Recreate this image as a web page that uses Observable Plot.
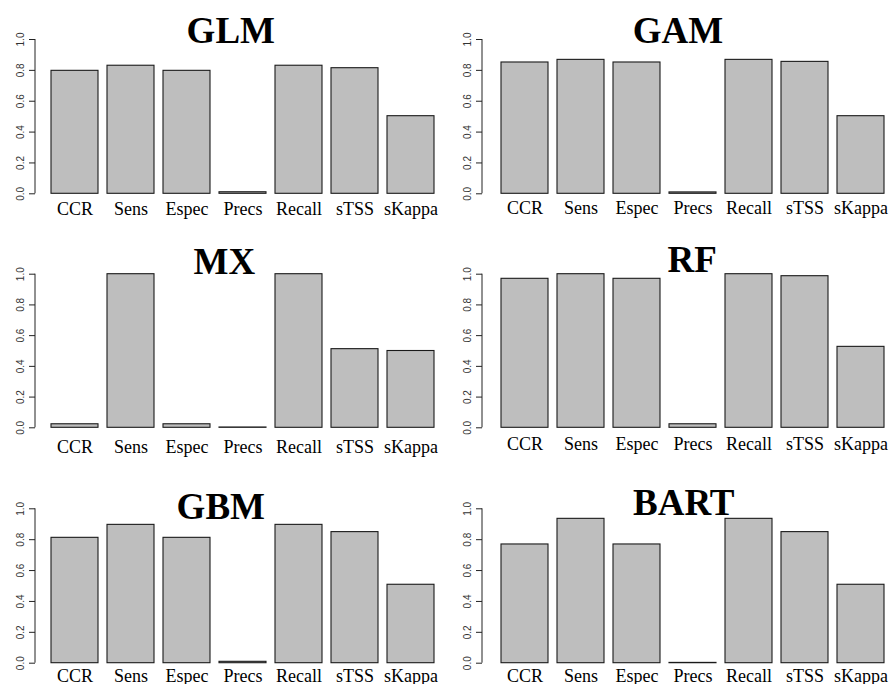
<!DOCTYPE html>
<html>
<head>
<meta charset="utf-8">
<script src="https://cdn.jsdelivr.net/npm/d3@7"></script>
<script src="https://cdn.jsdelivr.net/npm/@observablehq/plot@0.6"></script>
<style>
  html, body { margin: 0; padding: 0; background: #fff; }
  #wrap { position: relative; width: 894px; height: 684px; overflow: hidden; background: #fff; }
  .panel { position: absolute; }
  .panel svg { overflow: visible; }
</style>
</head>
<body>
<div id="wrap"></div>
<script>
// ---- data ----
const metrics = ["CCR", "Sens", "Espec", "Precs", "Recall", "sTSS", "sKappa"];
const models = ["GLM", "GAM", "MX", "RF", "GBM", "BART"];
const glm  = [0.797, 0.830, 0.797, 0.010, 0.830, 0.814, 0.503];
const gam  = [0.851, 0.868, 0.851, 0.009, 0.868, 0.855, 0.503];
const mx   = [0.023, 1.000, 0.023, 0.002, 1.000, 0.512, 0.500];
const rf   = [0.970, 1.000, 0.970, 0.023, 1.000, 0.987, 0.527];
const gbm  = [0.812, 0.896, 0.812, 0.009, 0.896, 0.849, 0.508];
const bart = [0.769, 0.935, 0.769, 0.002, 0.935, 0.849, 0.508];
const yTicks = [0, 0.2, 0.4, 0.6, 0.8, 1.0];
const seriesByModel = {GLM: glm, GAM: gam, MX: mx, RF: rf, GBM: gbm, BART: bart};

// ---- layout (positions / sizes) ----
const W = 447, H = 228;
const layout = [
  {left: 0,   top: 0,   mt: 39,   mb: 34.7, xr: [49.3, 434.7], tx: 230.3, ty: 42.7, lb: 21.0},
  {left: 447, top: 0,   mt: 39,   mb: 34.7, xr: [52.3, 437.7], tx: 230.5, ty: 42.7, lb: 20.5},
  {left: 0,   top: 228, mt: 45.7, mb: 28.7, xr: [49.3, 434.7], tx: 223.8, ty: 45.0, lb: 25.3},
  {left: 447, top: 228, mt: 45.7, mb: 28.7, xr: [52.3, 437.7], tx: 244.7, ty: 43.3, lb: 22.4},
  {left: 0,   top: 456, mt: 52.3, mb: 21.3, xr: [49.3, 434.7], tx: 220.3, ty: 62.0, lb: 19.0},
  {left: 447, top: 456, mt: 52.3, mb: 21.3, xr: [52.3, 437.7], tx: 236.3, ty: 58.3, lb: 19.0}
];
const ML = 35;
const SERIF = "Liberation Serif, Times New Roman, serif";

const wrap = document.getElementById("wrap");

models.forEach((name, i) => {
  const L = layout[i];
  const vals = seriesByModel[name];
  const rows = metrics.map((m, j) => ({metric: m, value: vals[j]}));

  const axisLine = (index, scales, values, dimensions) => {
    return d3.create("svg:line")
      .attr("x1", dimensions.marginLeft)
      .attr("x2", dimensions.marginLeft)
      .attr("y1", scales.y(0))
      .attr("y2", scales.y(1))
      .attr("stroke", "#222")
      .attr("stroke-width", 1)
      .node();
  };

  const chart = Plot.plot({
    width: W,
    height: H,
    marginLeft: ML,
    marginRight: 0,
    marginTop: L.mt,
    marginBottom: L.mb,
    style: {background: "transparent", overflow: "visible"},
    x: {domain: metrics, range: L.xr, paddingInner: 0.1667, paddingOuter: 0, label: null, axis: null},
    y: {domain: [0, 1], label: null},
    marks: [
      Plot.barY(rows, {x: "metric", y: "value", fill: "#bebebe", stroke: "#1a1a1a", strokeWidth: 1.1}),
      axisLine,
      Plot.axisY({
        ticks: yTicks, tickFormat: d3.format(".1f"), tickSize: 6, tickPadding: 6,
        tickRotate: -90, fontSize: 10, fontFamily: "Liberation Sans, Arial, sans-serif",
        stroke: "#222", fill: "#333", label: null
      }),
      Plot.text(rows, {
        x: "metric", frameAnchor: "bottom", dy: L.lb,
        text: "metric", textAnchor: "middle", lineAnchor: "bottom",
        fontSize: 18, fontFamily: SERIF, fill: "#000"
      }),
      Plot.text([name], {
        frameAnchor: "top-left", dx: L.tx - ML, dy: L.ty - L.mt,
        text: d => d, textAnchor: "middle", lineAnchor: "bottom",
        fontSize: 37, fontWeight: "bold", fontFamily: SERIF, fill: "#000"
      })
    ]
  });

  const div = document.createElement("div");
  div.className = "panel";
  div.style.left = L.left + "px";
  div.style.top = L.top + "px";
  div.appendChild(chart);
  wrap.appendChild(div);
});
</script>
</body>
</html>
